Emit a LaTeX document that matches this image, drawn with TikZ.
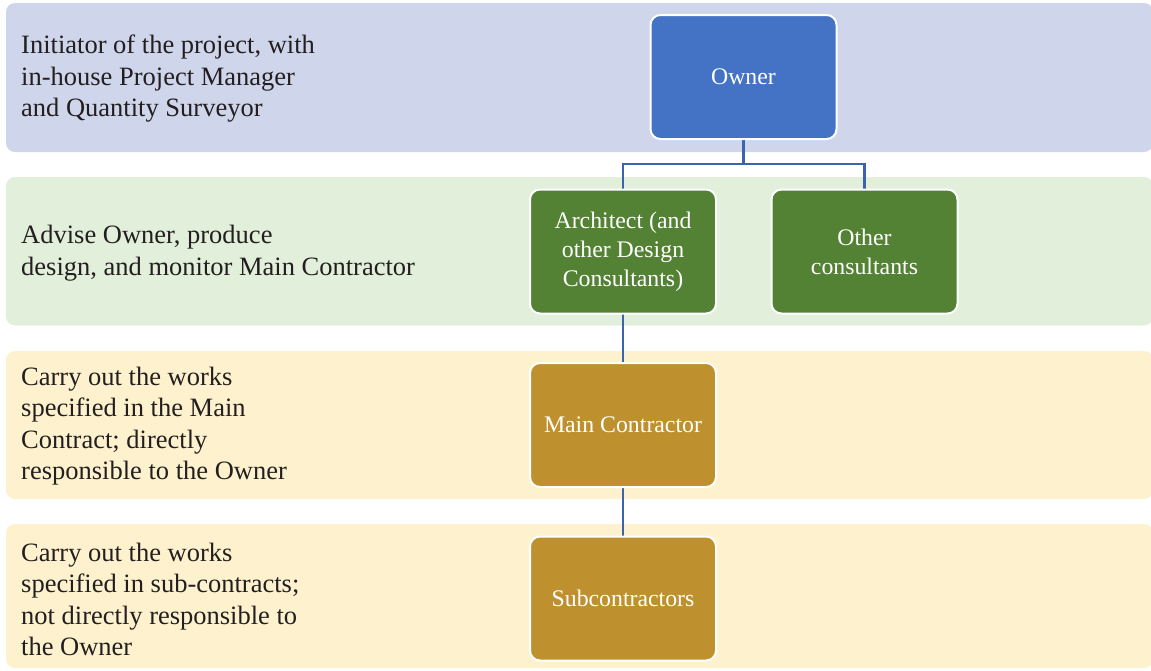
\documentclass[tikz,border=0pt]{standalone}
\usepackage{fontspec}
\setmainfont{Liberation Serif}
\definecolor{bandA}{HTML}{CFD5EA}
\definecolor{bandB}{HTML}{E2EFDA}
\definecolor{bandC}{HTML}{FDF2CD}
\definecolor{ownerc}{HTML}{4472C4}
\definecolor{greenc}{HTML}{548235}
\definecolor{goldc}{HTML}{BF912E}
\definecolor{linec}{HTML}{3B64AD}
\definecolor{txtc}{HTML}{231F20}
\tikzset{
  band/.style={rounded corners=9pt, draw=none},
  bandtext/.style={anchor=west, align=left, inner sep=0pt, text=txtc,
    font=\fontsize{26.5}{31.5}\selectfont},
  box/.style={draw=white, line width=2pt, rounded corners=10pt,
    minimum width=186pt, minimum height=124pt, inner sep=2pt, align=center,
    text=white, font=\fontsize{23.8}{29}\selectfont},
  conn/.style={draw=linec, line width=2.4pt}
}
\begin{document}
\begin{tikzpicture}[x=1pt,y=-1pt]
\useasboundingbox (0,0) rectangle (1151,670);
% bands
\fill[band, bandA] (6,3) rectangle (1153,152);
\fill[band, bandB] (6,177) rectangle (1153,325.5);
\fill[band, bandC] (6,351) rectangle (1153,499);
\fill[band, bandC] (6,524) rectangle (1153,668);
% band texts
\node[bandtext] (t1) at (21,79) {Initiator of the project, with\\in-house Project Manager\\and Quantity Surveyor};
\node[bandtext] (t2) at (21,253) {Advise Owner, produce\\design, and monitor Main Contractor};
\node[bandtext] (t3) at (21,426) {Carry out the works\\specified in the Main\\Contract; directly\\responsible to the Owner};
\node[bandtext] (t4) at (21,599.5) {Carry out the works\\specified in sub-contracts;\\not directly responsible to\\the Owner};
% connectors (under boxes)
\coordinate (ownerc) at (743.5,77);
\coordinate (archc) at (623,251.5);
\coordinate (otherc) at (864.5,251.5);
\coordinate (mainc) at (623,425);
\coordinate (subc) at (623,598.5);
\draw[conn] (ownerc) -- (743.5,164) -| (archc);
\draw[conn] (743.5,164) -| (otherc);
\draw[conn] (archc) -- (mainc);
\draw[conn] (mainc) -- (subc);
% boxes
\node[box, fill=ownerc] (owner) at (ownerc) {Owner};
\node[box, fill=greenc] (arch) at (archc) {Architect (and\\other Design\\Consultants)};
\node[box, fill=greenc] (other) at (otherc) {Other\\consultants};
\node[box, fill=goldc] (main) at (mainc) {Main Contractor};
\node[box, fill=goldc] (sub) at (subc) {Subcontractors};
\end{tikzpicture}
\end{document}
